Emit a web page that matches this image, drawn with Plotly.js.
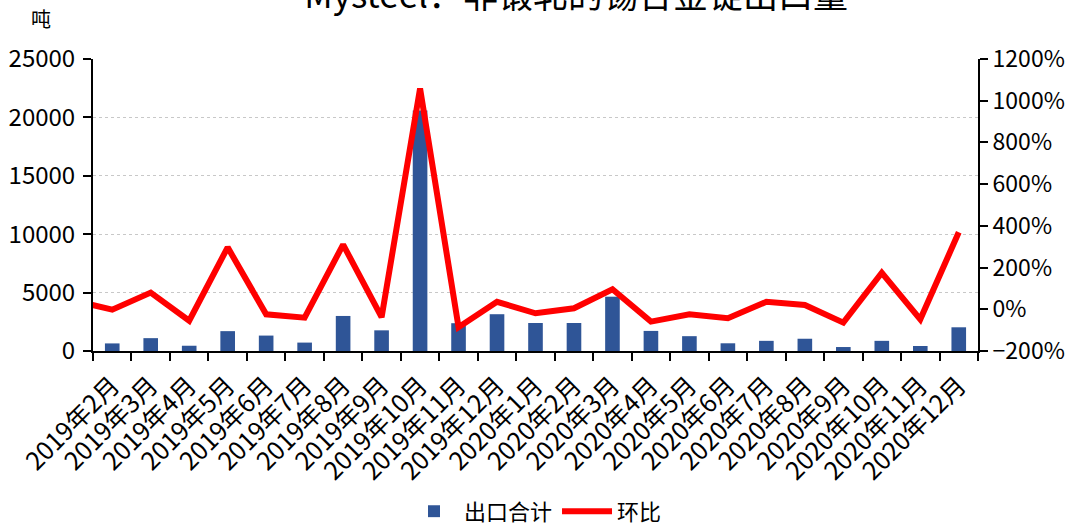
<!DOCTYPE html>
<html>
<head>
<meta charset="utf-8">
<script src="https://cdn.plot.ly/plotly-3.0.1.min.js"></script>
<style>
  html, body { margin: 0; padding: 0; background: #fff; }
  #chart { width: 1067px; height: 525px; }
</style>
</head>
<body>
<div id="chart"></div>
<script>
// Categories (first month lies just outside the visible axis range; only its line segment shows)
const months = [
  "2019年1月","2019年2月","2019年3月","2019年4月","2019年5月","2019年6月","2019年7月",
  "2019年8月","2019年9月","2019年10月","2019年11月","2019年12月",
  "2020年1月","2020年2月","2020年3月","2020年4月","2020年5月","2020年6月",
  "2020年7月","2020年8月","2020年9月","2020年10月","2020年11月","2020年12月"
];
// 出口合计 (吨)
const exportTotal = [
  null, 650, 1100, 450, 1700, 1320, 720,
  3000, 1770, 20600, 2380, 3150,
  2400, 2400, 4650, 1720, 1270, 660,
  870, 1050, 340, 870, 430, 2030
];
// 环比 (%)
const momChange = [
  42, -2, 80, -55, 297, -24, -40,
  310, -38, 1059, -86, 36,
  -19, 5, 96, -59, -24, -43,
  36, 21, -64, 175, -48, 369
];

const FONT = '"Noto Sans CJK SC", "Noto Sans", sans-serif';

const traces = [
  {
    type: 'bar',
    name: '出口合计',
    x: months,
    y: exportTotal,
    marker: { color: '#2F5597' },
    yaxis: 'y'
  },
  {
    type: 'scatter',
    mode: 'lines',
    name: '环比',
    x: months,
    y: momChange,
    line: { color: '#FF0000', width: 6 },
    yaxis: 'y2'
  }
];

const layout = {
  width: 1067,
  height: 525,
  margin: { l: 93, r: 89, t: 59, b: 174, autoexpand: false },
  paper_bgcolor: '#ffffff',
  plot_bgcolor: '#ffffff',
  font: { family: FONT, color: '#000', size: 22 },
  showlegend: true,
  bargap: 0.62,
  title: {
    text: 'Mysteel：非锻轧的锡合金锭出口量',
    font: { family: FONT, size: 35, color: '#000' },
    x: 0.54, xanchor: 'center',
    y: 0.985, yanchor: 'bottom', yref: 'container',
    automargin: false
  },
  xaxis: {
    type: 'category',
    range: [0.5, 23.5],
    automargin: false,
    tickangle: -45,
    tickson: 'boundaries',
    ticks: 'outside',
    ticklen: 8,
    tickwidth: 2,
    tickcolor: '#000',
    ticklabelstandoff: 8,
    showline: true,
    linecolor: '#000',
    linewidth: 2,
    showgrid: false,
    zeroline: false,
    tickfont: { family: FONT, size: 25, color: '#000' }
  },
  yaxis: {
    range: [0, 25000],
    dtick: 5000,
    tick0: 0,
    tickformat: 'd',
    automargin: false,
    ticks: 'outside',
    ticklen: 8,
    tickwidth: 2,
    tickcolor: '#000',
    ticklabelstandoff: 3,
    showline: true,
    linecolor: '#000',
    linewidth: 2,
    showgrid: true,
    gridcolor: '#C8C8C8',
    gridwidth: 1,
    griddash: 'dot',
    zeroline: false,
    tickfont: { family: FONT, size: 24, color: '#000' }
  },
  yaxis2: {
    overlaying: 'y',
    side: 'right',
    range: [-200, 1200],
    dtick: 200,
    tick0: 0,
    ticksuffix: '%',
    automargin: false,
    ticks: 'outside',
    ticklen: 8,
    tickwidth: 2,
    tickcolor: '#000',
    showline: true,
    linecolor: '#000',
    linewidth: 2,
    showgrid: false,
    zeroline: false,
    tickfont: { family: FONT, size: 23, color: '#000' }
  },
  legend: {
    orientation: 'h',
    x: 0.5, xanchor: 'center',
    y: 0.026, yanchor: 'middle', yref: 'container',
    font: { family: FONT, size: 22, color: '#000' },
    itemwidth: 50,
    traceorder: 'normal'
  },
  annotations: [
    {
      text: '吨',
      xref: 'paper', yref: 'paper',
      x: -0.072, y: 1.14,
      xanchor: 'left', yanchor: 'middle',
      showarrow: false,
      font: { family: FONT, size: 20, color: '#000' }
    }
  ]
};

Plotly.newPlot('chart', traces, layout, { displayModeBar: false, staticPlot: true });
</script>
</body>
</html>
